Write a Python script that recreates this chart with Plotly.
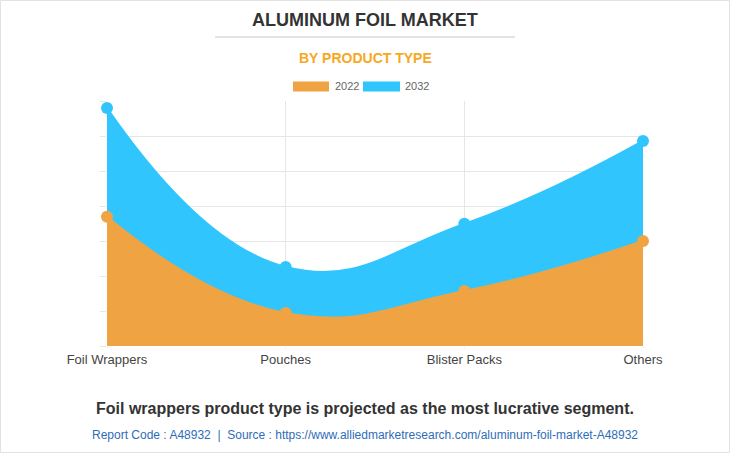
import plotly.graph_objects as go

categories = ["Foil Wrappers", "Pouches", "Blister Packs", "Others"]
values_2022 = [3.69, 0.94, 1.57, 3.0]
values_2032 = [6.8, 2.26, 3.49, 5.86]
series_names = ["2022", "2032"]

ORANGE = "#F0A342"
BLUE = "#31C5FE"
FONT = "Liberation Sans, Arial, sans-serif"

L, R, T, B = 107, 87, 101, 107
W, H = 730, 453
PW, PH = W - L - R, H - T - B


def px_x(x):
    return (x - L) / PW


def px_y(y):
    return (H - B - y) / PH


fig = go.Figure()
fig.add_trace(go.Scatter(
    x=categories, y=values_2032, name=series_names[1],
    mode="lines+markers", fill="tozeroy", fillcolor=BLUE,
    line=dict(color=BLUE, width=2, shape="spline", smoothing=1.3),
    marker=dict(size=12, color=BLUE), cliponaxis=False, hoverinfo="skip",
))
fig.add_trace(go.Scatter(
    x=categories, y=values_2022, name=series_names[0],
    mode="lines+markers", fill="tozeroy", fillcolor=ORANGE,
    line=dict(color=ORANGE, width=2, shape="spline", smoothing=1.3),
    marker=dict(size=12, color=ORANGE), cliponaxis=False, hoverinfo="skip",
))

shapes = [
    dict(type="line", xref="paper", yref="paper", x0=px_x(215), x1=px_x(515),
         y0=px_y(37), y1=px_y(37), line=dict(color="#c8c8c8", width=1)),
    dict(type="rect", xref="paper", yref="paper", x0=px_x(293), x1=px_x(329),
         y0=px_y(91.5), y1=px_y(81.5), fillcolor=ORANGE, line=dict(width=0)),
    dict(type="rect", xref="paper", yref="paper", x0=px_x(363), x1=px_x(400),
         y0=px_y(91.5), y1=px_y(81.5), fillcolor=BLUE, line=dict(width=0)),
    dict(type="rect", xref="paper", yref="paper", x0=px_x(0.5), x1=px_x(729.5),
         y0=px_y(452.5), y1=px_y(0.5), line=dict(color="#e2e2e2", width=1)),
]

annotations = [
    dict(text="<b>ALUMINUM FOIL MARKET</b>", x=px_x(365), y=px_y(20), xref="paper", yref="paper",
         showarrow=False, xanchor="center", yanchor="middle",
         font=dict(family=FONT, size=18, color="#333333")),
    dict(text="<b>BY PRODUCT TYPE</b>", x=px_x(365), y=px_y(58), xref="paper", yref="paper",
         showarrow=False, xanchor="center", yanchor="middle",
         font=dict(family=FONT, size=14, color="#F7A823")),
    dict(text=series_names[0], x=px_x(333), y=px_y(86.5), xref="paper", yref="paper",
         showarrow=False, xanchor="left", yanchor="middle",
         font=dict(family=FONT, size=11, color="#666666")),
    dict(text=series_names[1], x=px_x(403), y=px_y(86.5), xref="paper", yref="paper",
         showarrow=False, xanchor="left", yanchor="middle",
         font=dict(family=FONT, size=11, color="#666666")),
    dict(text="<b>Foil wrappers product type is projected as the most lucrative segment.</b>",
         x=px_x(365), y=px_y(408), xref="paper", yref="paper",
         showarrow=False, xanchor="center", yanchor="middle",
         font=dict(family=FONT, size=16, color="#333333")),
    dict(text="Report Code : A48932  |  Source : https://www.alliedmarketresearch.com/aluminum-foil-market-A48932",
         x=px_x(365), y=px_y(435), xref="paper", yref="paper",
         showarrow=False, xanchor="center", yanchor="middle",
         font=dict(family=FONT, size=12, color="#2E6DB8")),
]

fig.update_layout(
    width=W, height=H, margin=dict(l=L, r=R, t=T, b=B),
    paper_bgcolor="white", plot_bgcolor="white",
    showlegend=False, shapes=shapes, annotations=annotations,
    xaxis=dict(type="category", range=[0, 3], showgrid=True, gridcolor="#e6e6e6",
               zeroline=False, showline=False, ticks="outside", ticklen=1,
               tickcolor="#e6e6e6", tickfont=dict(family=FONT, size=13, color="#444444")),
    yaxis=dict(range=[0, 7], dtick=1, showgrid=True, gridcolor="#e6e6e6",
               zeroline=False, showline=False, showticklabels=False,
               ticks="outside", ticklen=6, tickcolor="#e6e6e6"),
)

fig.write_html("out.html")
